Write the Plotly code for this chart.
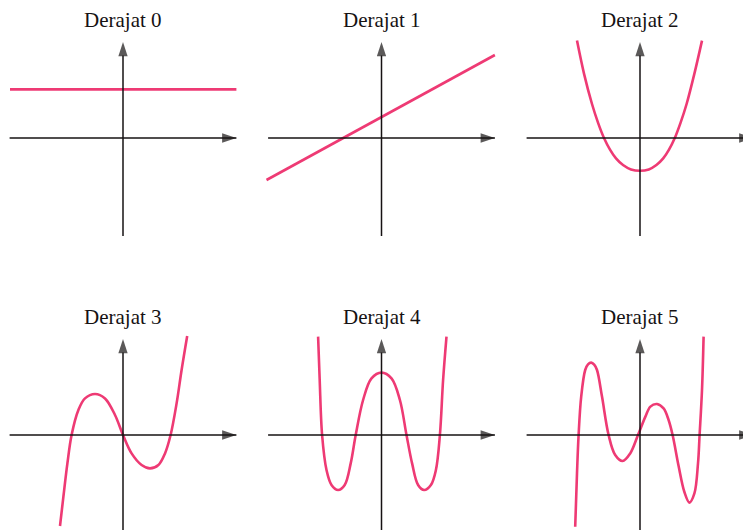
import plotly.graph_objects as go
from plotly.subplots import make_subplots

W, H = 743, 530
PX = 20  # piksel per satuan sumbu

judul = ["Derajat 0", "Derajat 1", "Derajat 2", "Derajat 3", "Derajat 4", "Derajat 5"]

# titik-titik kurva (dalam satuan sumbu)
x_d0 = [-5.65, 5.67]
y_d0 = [2.43, 2.43]

x_d1 = [-5.75, 5.67]
y_d1 = [-2.1, 4.15]

x_d2 = [-3.15, -2.8, -2.4, -2.1, -1.8, -1.5, -1.2, -0.85, -0.45, 0,
        0.44, 0.82, 1.16, 1.45, 1.74, 2.03, 2.33, 2.72, 3.1]
y_d2 = [4.87, 3.22, 1.7, 0.77, 0, -0.58, -1.02, -1.35, -1.57, -1.64,
        -1.57, -1.35, -1.02, -0.58, 0, 0.77, 1.7, 3.22, 4.87]

x_d3 = [-3.15, -2.98, -2.78, -2.57, -2.23, -1.9, -1.4, -0.9, -0.4, 0, 0.43, 0.93, 1.35,
        1.77, 2.1, 2.38, 2.68, 2.93, 3.21]
y_d3 = [-4.55, -3.08, -1.42, 0, 1.25, 1.83, 2.05, 1.83, 1.0, 0, -0.92, -1.5, -1.67,
        -1.5, -0.92, 0, 1.58, 3.25, 4.95]

x_d4 = [-3.17, -3.09, -2.97, -2.75, -2.5, -2.17, -1.84, -1.54, -1.29, -0.92, -0.5, 0,
        0.5, 0.92, 1.25, 1.53, 1.83, 2.13, 2.47, 2.72, 2.92, 3.08, 3.25]
y_d4 = [4.92, 2.75, 0, -1.75, -2.5, -2.75, -2.5, -1.42, 0, 1.75, 2.83, 3.12,
        2.83, 1.75, 0, -1.42, -2.5, -2.75, -2.5, -1.75, 0, 2.75, 4.92]

x_d5 = [-3.24, -3.15, -3.07, -2.94, -2.74, -2.6, -2.44, -2.29, -2.15, -1.9, -1.57, -1.24,
        -0.87, -0.49, -0.1, 0.27, 0.52, 0.85, 1.18, 1.43, 1.63, 1.93, 2.22, 2.47, 2.72,
        2.9, 2.98, 3.1, 3.18]
y_d5 = [-4.59, -1.92, 0, 1.92, 3.25, 3.53, 3.62, 3.52, 3.25, 1.92, 0, -1.0,
        -1.3, -0.92, 0, 0.92, 1.42, 1.55, 1.33, 0.75, 0, -1.55, -2.85, -3.38, -2.92,
        -1.42, 0, 2.25, 4.92]

kurva = [(x_d0, y_d0), (x_d1, y_d1), (x_d2, y_d2), (x_d3, y_d3), (x_d4, y_d4), (x_d5, y_d5)]

# panjang sumbu koordinat
sumbu_x = [-5.67, 5.67]
sumbu_y = [-4.9, 4.8]

# posisi titik asal tiap panel (piksel)
asal_x = [123, 381.5, 640]
asal_y = [138, 435]

PINK = "#ee3a74"
HITAM = "#161213"

fig = make_subplots(rows=2, cols=3)

for i, (xs, ys) in enumerate(kurva):
    r, c = i // 3 + 1, i % 3 + 1
    fig.add_trace(go.Scatter(x=xs, y=ys, mode="lines",
                             line=dict(color=PINK, width=2.6, shape="spline", smoothing=1)),
                  row=r, col=c)
    fig.add_trace(go.Scatter(x=sumbu_x, y=[0, 0], mode="lines+markers",
                             line=dict(color=HITAM, width=1.5),
                             marker=dict(symbol="arrow", size=[0, 15], angle=90,
                                         color=HITAM, line=dict(width=0))),
                  row=r, col=c)
    fig.add_trace(go.Scatter(x=[0, 0], y=sumbu_y, mode="lines+markers",
                             line=dict(color=HITAM, width=1.5),
                             marker=dict(symbol="arrow", size=[0, 15], angle=0,
                                         color=HITAM, line=dict(width=0))),
                  row=r, col=c)

    ox, oy = asal_x[c - 1], asal_y[r - 1]
    px0, px1 = max(0, ox - 125), min(W, ox + 125)
    py0, py1 = max(0, oy - 105), min(H, oy + 105)
    n = "" if i == 0 else str(i + 1)
    fig.layout["xaxis" + n].update(domain=[px0 / W, px1 / W],
                                   range=[(px0 - ox) / PX, (px1 - ox) / PX])
    fig.layout["yaxis" + n].update(domain=[(H - py1) / H, (H - py0) / H],
                                   range=[(oy - py1) / PX, (oy - py0) / PX])

    fig.add_annotation(text=judul[i], xref="paper", yref="paper",
                       x=ox / W, y=(H - (oy - 118)) / H,
                       xanchor="center", yanchor="middle", showarrow=False,
                       font=dict(family="Liberation Serif", size=21, color=HITAM))

fig.update_xaxes(visible=False, fixedrange=True)
fig.update_yaxes(visible=False, fixedrange=True)
fig.update_layout(width=W, height=H, margin=dict(l=0, r=0, t=0, b=0),
                  showlegend=False, plot_bgcolor="white", paper_bgcolor="white")

fig.write_html("out.html", config={"displayModeBar": False},
               post_script="document.body.style.margin='0';")
